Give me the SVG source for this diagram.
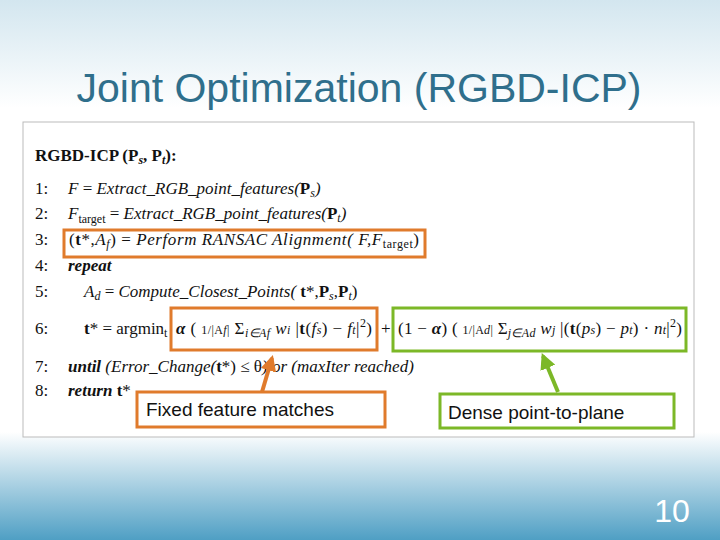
<svg xmlns="http://www.w3.org/2000/svg" width="720" height="540" viewBox="0 0 720 540">
<defs>
<linearGradient id="bg" x1="0" y1="0" x2="0" y2="1">
<stop offset="0" stop-color="#d3e6ef"/><stop offset="0.2" stop-color="#ffffff"/><stop offset="0.8" stop-color="#ffffff"/><stop offset="1" stop-color="#4f9fc4"/>
</linearGradient>
<marker id="ao" viewBox="0 0 10 10" refX="8" refY="5" markerWidth="4" markerHeight="4" orient="auto"><path d="M0,0L10,5L0,10z" fill="#e07b2c"/></marker>
<marker id="ag" viewBox="0 0 10 10" refX="8" refY="5" markerWidth="4" markerHeight="4" orient="auto"><path d="M0,0L10,5L0,10z" fill="#7cb827"/></marker>
<style>
.t{font-family:"Liberation Serif",serif;font-size:17px;fill:#111}
.i{font-style:italic}
.b{font-weight:bold}
.s{font-size:12px}
.ob{fill:none;stroke:#e07b2c;stroke-width:3}
.gb{fill:none;stroke:#7cb827;stroke-width:3}
.lb{font-family:"Liberation Sans",sans-serif;font-size:19px;fill:#111}
</style>
</defs>
<rect width="720" height="540" fill="url(#bg)"/>
<text x="359" y="102" text-anchor="middle" font-family="Liberation Sans,sans-serif" font-size="41" fill="#2f6f8c">Joint Optimization (RGBD-ICP)</text>
<rect x="23" y="122" width="671" height="315" fill="#fff" stroke="#bbb" stroke-width="1"/>
<g id="algo">
<text class="t b" x="35" y="161">RGBD-ICP (P<tspan class="s i" dy="3">s</tspan><tspan dy="-3">, P</tspan><tspan class="s i" dy="3">t</tspan><tspan dy="-3">):</tspan></text>
<text class="t" x="35" y="194">1:</text><text class="t" x="68" y="194"><tspan class="i">F</tspan> = <tspan class="i">Extract_RGB_point_features(</tspan><tspan class="b">P</tspan><tspan class="s i" dy="3">s</tspan><tspan class="i" dy="-3">)</tspan></text>
<text class="t" x="35" y="219">2:</text><text class="t" x="68" y="219"><tspan class="i">F</tspan><tspan class="s" dy="4">target</tspan><tspan dy="-4"> = </tspan><tspan class="i">Extract_RGB_point_features(</tspan><tspan class="b">P</tspan><tspan class="s i" dy="3">t</tspan><tspan class="i" dy="-3">)</tspan></text>
<text class="t" x="35" y="245">3:</text><text class="t" x="69" y="245" textLength="350" lengthAdjust="spacing">(<tspan class="b">t</tspan>*,<tspan class="i">A</tspan><tspan class="s i" dy="3">f</tspan><tspan dy="-3">) = </tspan><tspan class="i">Perform RANSAC Alignment( F,F</tspan><tspan class="s" dy="3">target</tspan><tspan dy="-3">)</tspan></text>
<text class="t" x="35" y="271">4:</text><text class="t b i" x="68" y="271">repeat</text>
<text class="t" x="35" y="297">5:</text><text class="t" x="84" y="297"><tspan class="i">A</tspan><tspan class="s i" dy="3">d</tspan><tspan dy="-3"> = </tspan><tspan class="i">Compute_Closest_Points( </tspan><tspan class="b">t</tspan>*,<tspan class="b">P</tspan><tspan class="s i" dy="3">s</tspan><tspan dy="-3">,</tspan><tspan class="b">P</tspan><tspan class="s i" dy="3">t</tspan><tspan dy="-3">)</tspan></text>
<text class="t" x="35" y="334">6:</text><text class="t" x="84" y="334"><tspan class="b">t</tspan>* = argmin<tspan class="s" dy="3">t</tspan></text>
<text class="t" x="176" y="334" textLength="196" lengthAdjust="spacing"><tspan class="b i">α</tspan> ( <tspan class="s">1/|A</tspan><tspan class="s i">f</tspan><tspan class="s">|</tspan> Σ<tspan class="s i" dy="3">i∈Af</tspan><tspan class="i" dy="-3"> w</tspan><tspan class="s i">i</tspan> |<tspan class="b">t</tspan>(<tspan class="i">f</tspan><tspan class="s i">s</tspan>) − <tspan class="i">f</tspan><tspan class="s i">t</tspan>|<tspan class="s" dy="-7">2</tspan><tspan dy="7">)</tspan></text>
<text class="t" x="381" y="334" fill="#bbb">+</text>
<text class="t" x="398" y="334" textLength="284" lengthAdjust="spacing">(1 − <tspan class="b i">α</tspan>) ( <tspan class="s">1/|A</tspan><tspan class="s i">d</tspan><tspan class="s">|</tspan> Σ<tspan class="s i" dy="3">j∈Ad</tspan><tspan class="i" dy="-3"> w</tspan><tspan class="s i">j</tspan> |(<tspan class="b">t</tspan>(<tspan class="i">p</tspan><tspan class="s i">s</tspan>) − <tspan class="i">p</tspan><tspan class="s i">t</tspan>) · <tspan class="i">n</tspan><tspan class="s i">t</tspan>|<tspan class="s" dy="-7">2</tspan><tspan dy="7">)</tspan></text>
<text class="t" x="35" y="372">7:</text><text class="t" x="68" y="372"><tspan class="b i">until</tspan><tspan class="i"> (Error_Change(</tspan><tspan class="b">t</tspan>*) ≤ θ<tspan class="i">) or (maxIter reached)</tspan></text>
<text class="t" x="35" y="396">8:</text><text class="t" x="68" y="396"><tspan class="b i">return</tspan><tspan class="b"> t</tspan>*</text>
</g>
<g id="connectors">
<line x1="262" y1="392" x2="272" y2="358" stroke="#e07b2c" stroke-width="4" marker-end="url(#ao)"/>
<line x1="558" y1="392" x2="543" y2="356" stroke="#7cb827" stroke-width="4" marker-end="url(#ag)"/>
</g>
<g id="box3"><rect class="ob" x="64" y="230" width="361" height="27"/></g>
<g id="box6a"><rect class="ob" x="171" y="308" width="206" height="42"/></g>
<g id="box6b"><rect class="gb" x="393" y="308" width="293" height="43"/></g>
<g id="fixed"><rect class="ob" x="137" y="392" width="248" height="35" fill="#fff"/><text class="lb" x="146" y="416">Fixed feature matches</text></g>
<g id="dense"><rect class="gb" x="440" y="394" width="234" height="34" fill="#fff"/><text class="lb" x="448" y="419">Dense point-to-plane</text></g>
<text x="672" y="522" text-anchor="middle" font-family="Liberation Sans,sans-serif" font-size="32" fill="#fff">10</text>
</svg>
